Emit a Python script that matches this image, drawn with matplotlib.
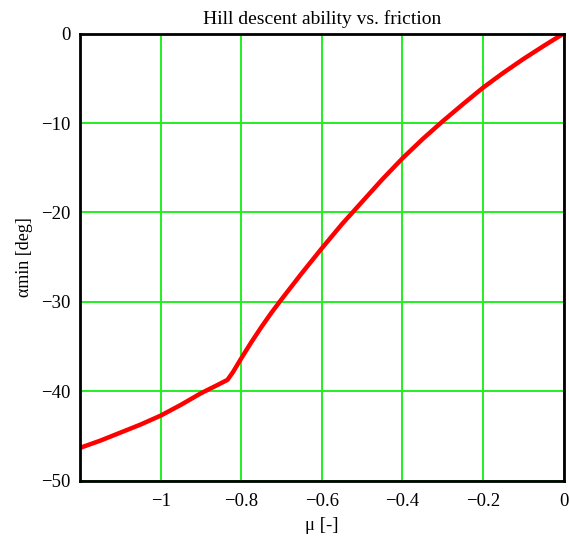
import matplotlib.pyplot as plt
import numpy as np

# friction coefficient vs. minimum slope angle
mu = [-1.2, -1.15, -1.1, -1.05, -1.0, -0.95, -0.9, -0.86, -0.834, -0.82, -0.8,
      -0.775, -0.75, -0.725, -0.7, -0.65, -0.6, -0.55, -0.5, -0.45, -0.4,
      -0.35, -0.3, -0.25, -0.2, -0.15, -0.1, -0.05, 0.0]
alpha_min = [-46.3, -45.5, -44.6, -43.7, -42.7, -41.5, -40.2, -39.3, -38.7, -37.8, -36.3,
             -34.5, -32.8, -31.2, -29.7, -26.8, -24.0, -21.3, -18.8, -16.3, -13.95,
             -11.8, -9.8, -7.9, -6.05, -4.4, -2.85, -1.4, 0.0]

xticks = [-1.0, -0.8, -0.6, -0.4, -0.2, 0.0]
xtick_labels = ['\u22121', '\u22120.8', '\u22120.6', '\u22120.4', '\u22120.2', '0']
yticks = [0, -10, -20, -30, -40, -50]
ytick_labels = ['0', '\u221210', '\u221220', '\u221230', '\u221240', '\u221250']

plt.rcParams['font.family'] = ['Liberation Serif', 'DejaVu Serif']

fig = plt.figure(figsize=(5.69, 5.38), dpi=100)
ax = fig.add_axes([0.1406, 0.106, 0.850, 0.8317])

ax.plot(mu, alpha_min, color='#ff0000', lw=3.2, zorder=3,
        solid_joinstyle='round', solid_capstyle='round')

ax.set_xlim(-1.2, 0)
ax.set_ylim(-50, 0)
ax.set_xticks(xticks)
ax.set_xticklabels(xtick_labels)
ax.set_yticks(yticks)
ax.set_yticklabels(ytick_labels)
ax.tick_params(length=0, labelsize=13.5)
ax.tick_params(axis='y', pad=7)
ax.tick_params(axis='x', pad=9)
ax.grid(True, color='#22ee22', lw=1.4)

for s in ax.spines.values():
    s.set_linewidth(2)
    s.set_color('black')
    s.set_zorder(4)

ax.set_title('Hill descent ability vs. friction', fontsize=14, pad=7)
ax.set_xlabel('\u03bc [-]', fontsize=13.5, labelpad=5)
ax.set_ylabel('\u03b1min [deg]', fontsize=13, labelpad=6)

fig.savefig('out.png', dpi=100)
